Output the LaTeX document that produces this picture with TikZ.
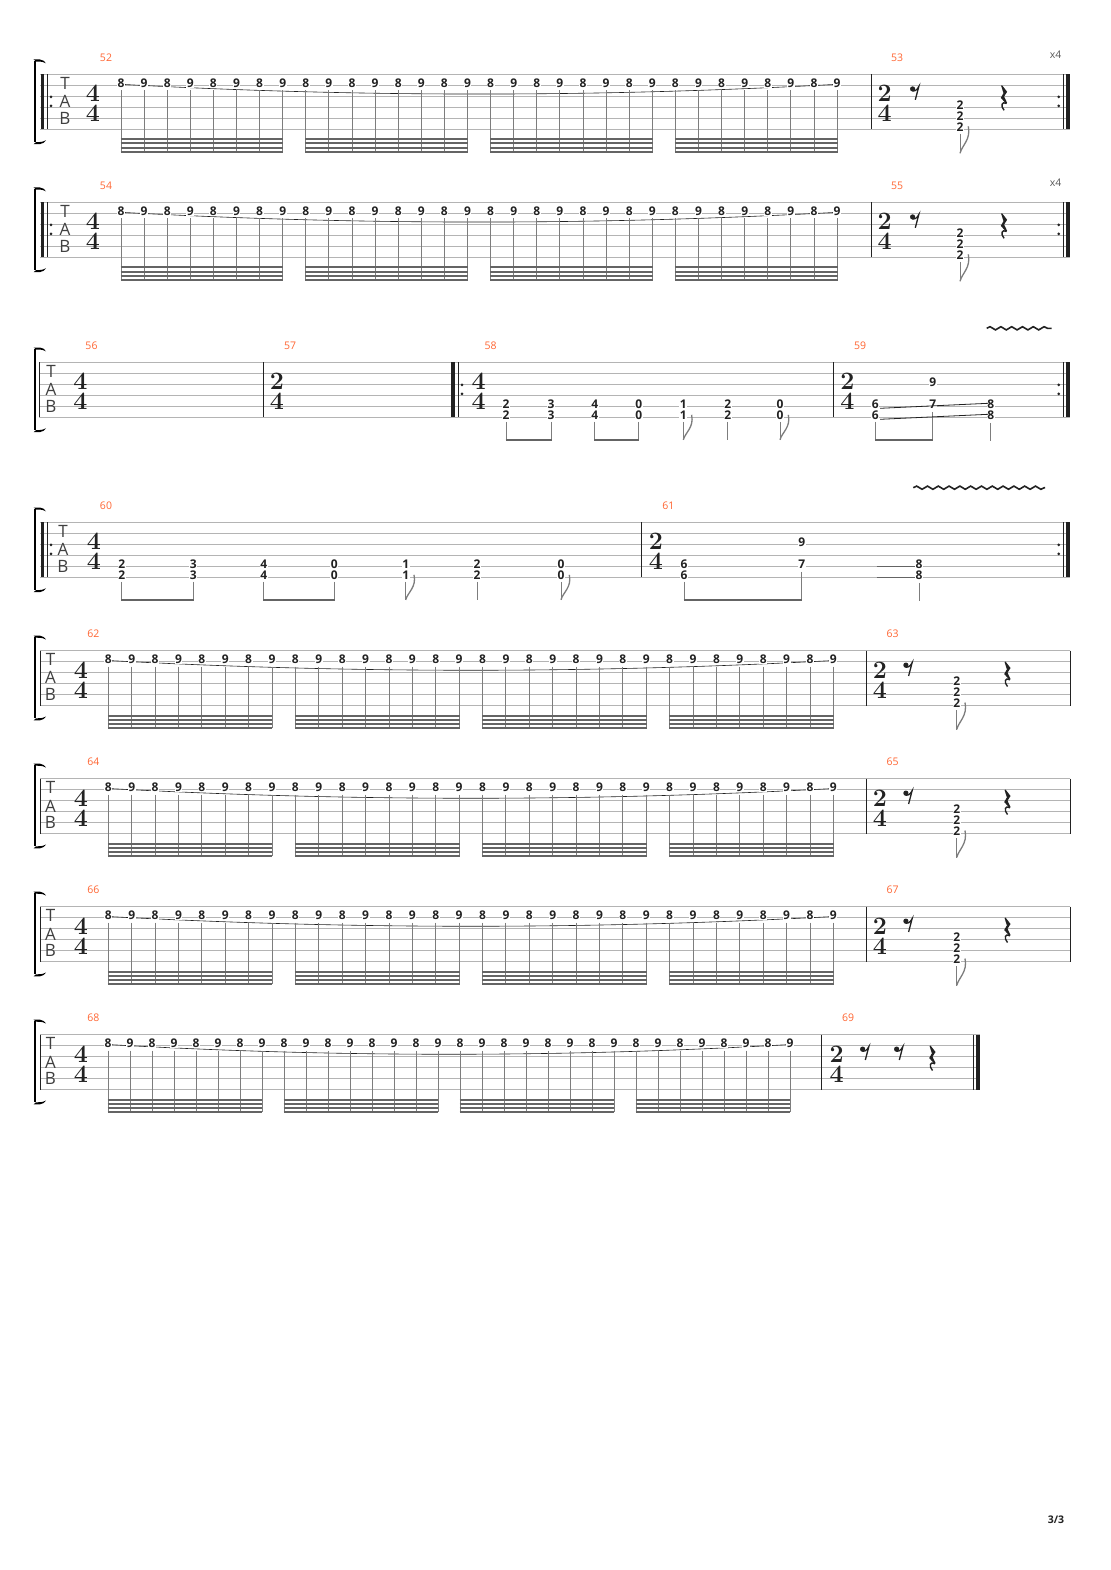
\documentclass[tikz,border=0pt]{standalone}
\usepackage{fontspec}
\newfontfamily\osans{Open Sans}
\usetikzlibrary{decorations.pathmorphing}
\definecolor{mnum}{RGB}{255,102,51}
\definecolor{staffc}{RGB}{180,180,180}
\definecolor{stemc}{RGB}{125,125,125}
\definecolor{beamc}{RGB}{100,100,100}
\definecolor{inkc}{RGB}{34,34,34}
\tikzset{
 staffline/.style={staffc, line width=0.9pt},
 fret/.style={font=\osans\bfseries\fontsize{12}{12}\selectfont, text=inkc, fill=white, inner sep=0.5pt, anchor=center},
 mnumber/.style={font=\osans\fontsize{10.5}{10.5}\selectfont, text=mnum, inner sep=0pt},
 xfour/.style={font=\osans\fontsize{10.5}{10.5}\selectfont, text=black!65, inner sep=0pt},
 tsig/.style={font=\rmfamily\bfseries\fontsize{25}{25}\selectfont, text=inkc, inner sep=0pt},
 tabl/.style={font=\osans\fontsize{17}{17}\selectfont, text=black!75, inner sep=0pt},
 stemline/.style={stemc, line width=0.9pt},
 beamline/.style={beamc, line width=2pt},
 ebeam/.style={beamc, line width=2.3pt},
 barl/.style={inkc, line width=1pt},
 slide/.style={inkc, line width=0.8pt},
 vib/.style={inkc, line width=1.6pt, decorate, decoration={snake, amplitude=1.6pt, segment length=10.8pt}},
}
\newcommand\myStaff[3]{\foreach \k in {0,...,5}{\draw[staffline] (#2,{#1+11*\k}) -- (#3,{#1+11*\k});}}
\newcommand\myFret[5]{\node[fret] (#5) at (#1,{#2+11*(#3-1)-2}) {#4};}
\newcommand\myTab[3]{%
 \node[tabl] (#3T) at (#1,{#2+9.3}) {T};
 \node[tabl] (#3A) at (#1,{#2+27.4}) {A};
 \node[tabl] (#3B) at (#1,{#2+43.8}) {B};}
\newcommand\myTSig[5]{%
 \node[tsig] (#5n) at (#1,{#2+19.3}) {#3};
 \node[tsig] (#5d) at (#1,{#2+39.3}) {#4};}
\newcommand\myBracket[1]{%
 \draw[black, line width=2.6pt] (35,{#1-13.5}) -- (35,{#1+67.5});
 \fill[black] (33.7,{#1-14.8}) -- (40,{#1-14.8}) .. controls (43,{#1-14.5}) and (44.5,{#1-13}) .. (46,{#1-11}) .. controls (44,{#1-12.3}) and (42,{#1-12.8}) .. (36,{#1-12.8}) -- cycle;
 \fill[black] (33.7,{#1+69.8}) -- (40,{#1+69.8}) .. controls (43,{#1+69.5}) and (44.5,{#1+68}) .. (46,{#1+66}) .. controls (44,{#1+67.3}) and (42,{#1+67.8}) .. (36,{#1+67.8}) -- cycle;}
\newcommand\myRepStart[1]{%
 \fill[inkc] (40.5,#1) rectangle (44,{#1+55});
 \draw[barl] (47,#1) -- (47,{#1+55});
 \fill[inkc] (51,{#1+22.5}) circle (1.5) (51,{#1+31.5}) circle (1.5);}
\newcommand\myRepEnd[1]{%
 \fill[inkc] (1058.7,{#1+22.5}) circle (1.5) (1058.7,{#1+31.5}) circle (1.5);
 \draw[barl] (1063.5,#1) -- (1063.5,{#1+55});
 \fill[inkc] (1066.3,#1) rectangle (1069.8,{#1+55});}
\newcommand\myFlag[3]{%
 \draw[stemc, line width=1.3pt] ({#1},{#2}) .. controls ({#1+2},{#2-0.3*#3}) and ({#1+11},{#2-0.5*#3}) .. ({#1+8.3},{#2-#3});}
\newcommand\myERest[2]{%
 \fill[inkc] ({#1-2.4},{#2+14.6}) circle (2.6);
 \draw[inkc, line width=1.3pt] ({#1-4},{#2+15.8}) .. controls ({#1-1},{#2+18}) and ({#1+2},{#2+16}) .. ({#1+3.8},{#2+12.2}) -- ({#1+0.3},{#2+25.5});}
\newcommand\myQRest[2]{%
 \fill[inkc] ({#1-2.2},{#2+11.5}) -- ({#1-1.2},{#2+11}) -- ({#1+3.8},{#2+17.5}) -- ({#1+0.8},{#2+22.2}) -- ({#1+3.8},{#2+28.5}) -- ({#1+2.8},{#2+29.5}) -- ({#1-2.5},{#2+23.5}) -- ({#1+0.2},{#2+18.8}) -- cycle;
 \draw[inkc, line width=1.4pt] ({#1+3.2},{#2+29.2}) .. controls ({#1-1.5},{#2+26.5}) and ({#1-3.2},{#2+31.5}) .. ({#1+0.8},{#2+36});}
\newcommand\myRun[4]{%
 \draw[inkc, line width=0.6pt] (#2,{#1+10}) .. controls ({#2+31*#3/3},{#1+23}) and ({#2+62*#3/3},{#1+23}) .. ({#2+31*#3},{#1+10});
 \foreach \i in {0,...,31}{%
  \pgfmathsetmacro\xx{#2+\i*#3}
  \draw[stemline] (\xx,{#1+16}) -- (\xx,{#1+77.7});}
 \foreach \g in {0,...,3}{%
  \foreach \b in {65,69.2,73.4,77.6}{%
   \draw[beamline] ({#2+8*\g*#3-0.45},{#1+\b}) -- ({#2+(8*\g+7)*#3+0.45},{#1+\b});}}
 \foreach \i in {0,...,31}{%
  \pgfmathsetmacro\xx{#2+\i*#3}
  \pgfmathtruncatemacro\vv{8+mod(\i,2)}
  \node[fret] (#4-\i) at (\xx,{#1+9}) {\vv};}}
\newcommand\myEnd[7]{%
 \draw[barl] (#2,#1) -- (#2,{#1+55});
 \myTSig{#3}{#1}{2}{4}{#7ts}
 \myERest{#4}{#1}
 \draw[stemline] (#5,{#1+59.5}) -- (#5,{#1+79});
 \myFlag{#5}{#1+79}{27}
 \myFret{#5}{#1}{4}{2}{#7-a}
 \myFret{#5}{#1}{5}{2}{#7-b}
 \myFret{#5}{#1}{6}{2}{#7-c}
 \myQRest{#6}{#1}}
\begin{document}
\begin{tikzpicture}[x=1pt,y=-1pt]
\fill[white] (0,0) rectangle (1110,1570);
\useasboundingbox (0,0) rectangle (1110,1570);

% ---------- System 1 ----------
\def\ty{74.3}
\myBracket{\ty}
\myStaff{\ty}{40}{1069.8}
\myRepStart{\ty}
\myTab{65}{\ty}{s1}
\myTSig{93}{\ty}{4}{4}{t52}
\node[mnumber] (m52) at (106,{\ty-16.3}) {52};
\myRun{\ty}{121}{23.1}{r52}
\myEnd{\ty}{871}{884.7}{915}{960}{1003.3}{e53}
\node[mnumber] (m53) at (897,{\ty-16.3}) {53};
\node[xfour] (xa) at (1055.5,{\ty-19.3}) {x4};
\myRepEnd{\ty}

% ---------- System 2 ----------
\def\ty{202.3}
\myBracket{\ty}
\myStaff{\ty}{40}{1069.8}
\myRepStart{\ty}
\myTab{65}{\ty}{s2}
\myTSig{93}{\ty}{4}{4}{t54}
\node[mnumber] (m54) at (106,{\ty-16.3}) {54};
\myRun{\ty}{121}{23.1}{r54}
\myEnd{\ty}{871}{884.7}{915}{960}{1003.3}{e55}
\node[mnumber] (m55) at (897,{\ty-16.3}) {55};
\node[xfour] (xb) at (1055.5,{\ty-19.3}) {x4};
\myRepEnd{\ty}

% ---------- System 3 ----------
\def\ty{362.3}
\myBracket{\ty}
\myStaff{\ty}{39}{1069.8}
\draw[barl] (39,\ty) -- (39,{\ty+55});
\myTab{51}{\ty}{s3}
\myTSig{80.3}{\ty}{4}{4}{t56}
\node[mnumber] (m56) at (91.5,{\ty-16.3}) {56};
\draw[barl] (263,\ty) -- (263,{\ty+55});
\myTSig{277}{\ty}{2}{4}{t57}
\node[mnumber] (m57) at (290,{\ty-16.3}) {57};
\fill[inkc] (451,\ty) rectangle (455,{\ty+55});
\draw[barl] (458.3,\ty) -- (458.3,{\ty+55});
\fill[inkc] (462,{\ty+22.5}) circle (1.5) (462,{\ty+31.5}) circle (1.5);
\myTSig{478.6}{\ty}{4}{4}{t58}
\node[mnumber] (m58) at (490.7,{\ty-16.3}) {58};
\foreach \xx/\v [count=\c] in {506/2,551/3,594.7/4,638.7/0,683.3/1,727.7/2,780/0}{%
 \draw[stemline] (\xx,{\ty+59.5}) -- (\xx,{\ty+77.5});
 \myFret{\xx}{\ty}{5}{\v}{p58-\c}
 \myFret{\xx}{\ty}{6}{\v}{q58-\c}}
\draw[ebeam] (505.5,{\ty+77.5}) -- (551.5,{\ty+77.5});
\draw[ebeam] (594.2,{\ty+77.5}) -- (639.2,{\ty+77.5});
\myFlag{683.3}{\ty+77.5}{25}
\myFlag{780}{\ty+77.5}{25}
\draw[barl] (833.3,\ty) -- (833.3,{\ty+55});
\myTSig{847.3}{\ty}{2}{4}{t59}
\node[mnumber] (m59) at (860,{\ty-16.3}) {59};
\draw[stemline] (875.3,{\ty+59.5}) -- (875.3,{\ty+77.5});
\draw[stemline] (932.7,{\ty+49.5}) -- (932.7,{\ty+77.5});
\draw[stemline] (990.7,{\ty+60.5}) -- (990.7,{\ty+78.5});
\draw[ebeam] (874.8,{\ty+77.5}) -- (933.2,{\ty+77.5});
\myFret{875.3}{\ty}{5}{6}{p59-1}
\myFret{875.3}{\ty}{6}{6}{q59-1}
\myFret{932.7}{\ty}{3}{9}{p59-2}
\myFret{932.7}{\ty}{5}{7}{q59-2}
\myFret{990.7}{\ty}{5}{8}{p59-3}
\myFret{990.7}{\ty}{6}{8}{q59-3}
\draw[slide] (880,{\ty+46}) -- (988.3,{\ty+41});
\draw[slide] (880,{\ty+57}) -- (988.3,{\ty+52});
\draw[vib] (986.7,{\ty-34}) -- (1051.7,{\ty-34});
\myRepEnd{\ty}

% ---------- System 4 ----------
\def\ty{522.3}
\myBracket{\ty}
\myStaff{\ty}{40}{1069.8}
\myRepStart{\ty}
\myTab{63}{\ty}{s4}
\myTSig{94}{\ty}{4}{4}{t60}
\node[mnumber] (m60) at (106,{\ty-16.3}) {60};
\foreach \xx/\v [count=\c] in {121.8/2,193.2/3,263.9/4,334.3/0,405.7/1,477.1/2,561/0}{%
 \draw[stemline] (\xx,{\ty+59.5}) -- (\xx,{\ty+77.5});
 \myFret{\xx}{\ty}{5}{\v}{p60-\c}
 \myFret{\xx}{\ty}{6}{\v}{q60-\c}}
\draw[ebeam] (121.3,{\ty+77.5}) -- (193.7,{\ty+77.5});
\draw[ebeam] (263.4,{\ty+77.5}) -- (334.8,{\ty+77.5});
\myFlag{405.7}{\ty+77.5}{25}
\myFlag{561}{\ty+77.5}{25}
\draw[barl] (641.7,\ty) -- (641.7,{\ty+55});
\myTSig{656}{\ty}{2}{4}{t61}
\node[mnumber] (m61) at (668.3,{\ty-16.3}) {61};
\draw[stemline] (684,{\ty+59.5}) -- (684,{\ty+77.5});
\draw[stemline] (801.7,{\ty+49.5}) -- (801.7,{\ty+77.5});
\draw[stemline] (919,{\ty+60.5}) -- (919,{\ty+78.5});
\draw[ebeam] (683.5,{\ty+77.5}) -- (802.2,{\ty+77.5});
\draw[beamc, line width=1.3pt] (876.7,{\ty+44}) -- (915,{\ty+44});
\draw[beamc, line width=1.3pt] (876.7,{\ty+55}) -- (915,{\ty+55});
\myFret{684}{\ty}{5}{6}{p61-1}
\myFret{684}{\ty}{6}{6}{q61-1}
\myFret{801.7}{\ty}{3}{9}{p61-2}
\myFret{801.7}{\ty}{5}{7}{q61-2}
\myFret{919}{\ty}{5}{8}{p61-3}
\myFret{919}{\ty}{6}{8}{q61-3}
\draw[vib] (913.3,{\ty-34.6}) -- (1045,{\ty-34.6});
\myRepEnd{\ty}

% ---------- Systems 5-7 ----------
\foreach \ty/\ma/\mb in {650.5/62/63, 778.5/64/65, 906.5/66/67}{%
 \myBracket{\ty}
 \myStaff{\ty}{40}{1070}
 \draw[barl] (40,\ty) -- (40,{\ty+55});
 \myTab{50.5}{\ty}{s\ma}
 \myTSig{81}{\ty}{4}{4}{t\ma}
 \node[mnumber] (m\ma) at (93.3,{\ty-16.3}) {\ma};
 \myRun{\ty}{108.3}{23.39}{r\ma}
 \myEnd{\ty}{866.7}{880}{908.3}{956.7}{1006.7}{e\mb}
 \node[mnumber] (m\mb) at (892.7,{\ty-16.3}) {\mb};
 \draw[barl] (1070,\ty) -- (1070,{\ty+55});
}

% ---------- System 8 ----------
\def\ty{1034.5}
\myBracket{\ty}
\myStaff{\ty}{40}{980.3}
\draw[barl] (40,\ty) -- (40,{\ty+55});
\myTab{50.5}{\ty}{s8}
\myTSig{81}{\ty}{4}{4}{t68}
\node[mnumber] (m68) at (93.3,{\ty-16.3}) {68};
\myRun{\ty}{108}{22}{r68}
\draw[barl] (821.7,\ty) -- (821.7,{\ty+55});
\myTSig{836.7}{\ty}{2}{4}{t69}
\node[mnumber] (m69) at (848,{\ty-16.3}) {69};
\myERest{865}{\ty}
\myERest{899}{\ty}
\myQRest{931.7}{\ty}
\draw[barl] (973.3,\ty) -- (973.3,{\ty+55});
\fill[inkc] (976.3,\ty) rectangle (980.3,{\ty+55});

% page number
\node[font=\osans\bfseries\fontsize{10.5}{10.5}\selectfont, text=inkc] (pg) at (1056,1520) {3/3};
\end{tikzpicture}
\end{document}
